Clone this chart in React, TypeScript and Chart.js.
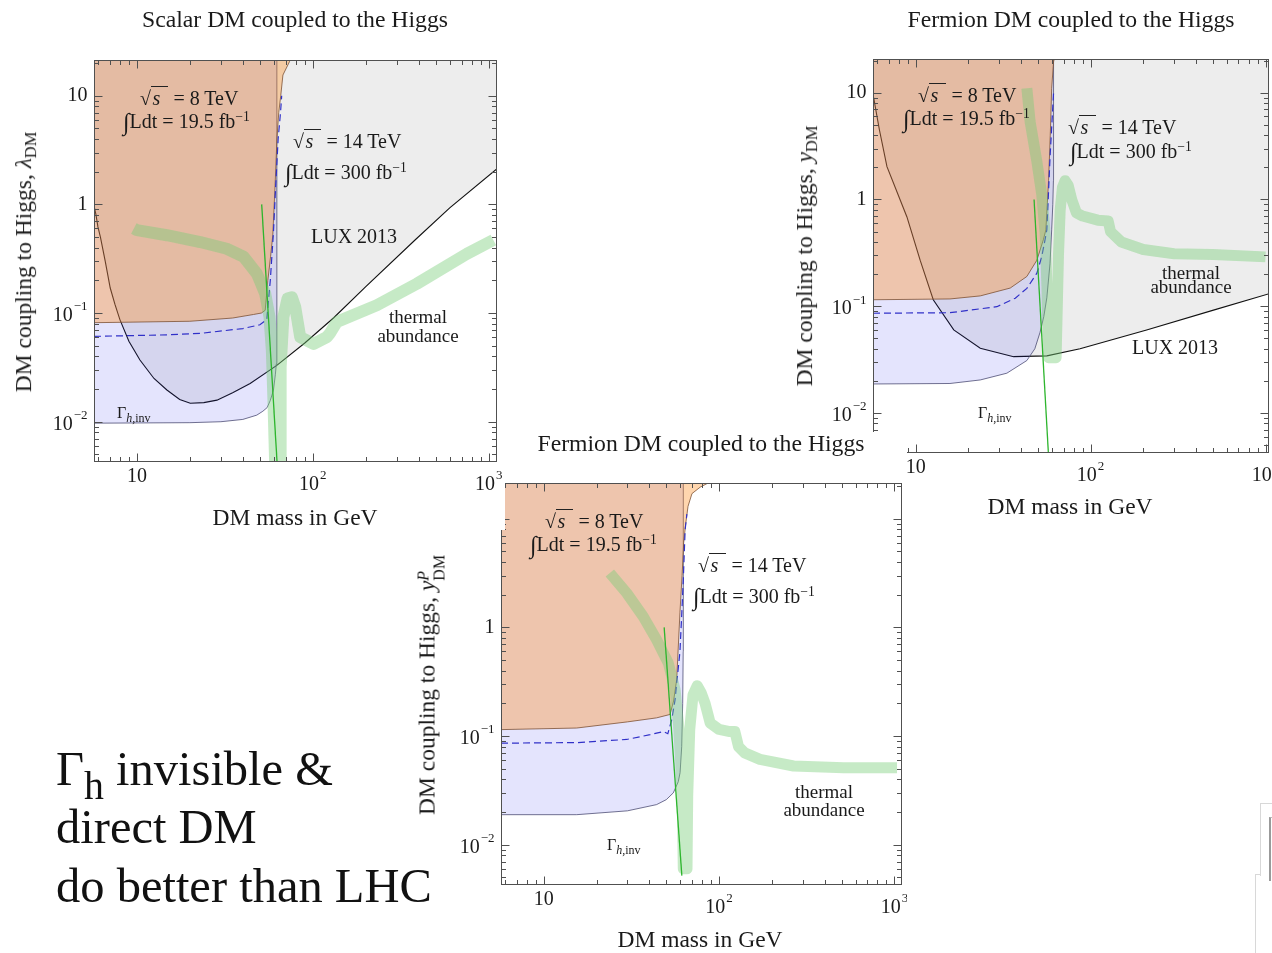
import React, { useEffect, useRef } from "react";
import { Chart, registerables } from "chart.js";

Chart.register(...registerables);

const SERIF = '"Liberation Serif", "Times New Roman", serif';
const INK = "#1a1a1a";
const AXIS = "#505050";

// ---------- ticks ----------
const xMajorTicks = [10, 100, 1000];
const xTickLabels = [["10", ""], ["10", "2"], ["10", "3"]];
const xMinorTicks = [6, 7, 8, 9, 20, 30, 40, 50, 60, 70, 80, 90, 200, 300, 400, 500, 600, 700, 800, 900];
const yMajorTicks = [0.01, 0.1, 1, 10];
const yTickLabels = [["10", "−2"], ["10", "−1"], ["1", ""], ["10", ""]];
const yMinorTicks = [0.005, 0.006, 0.007, 0.008, 0.009, 0.02, 0.03, 0.04, 0.05, 0.06, 0.07, 0.08, 0.09,
  0.2, 0.3, 0.4, 0.5, 0.6, 0.7, 0.8, 0.9, 2, 3, 4, 5, 6, 7, 8, 9, 20];
const X_MIN = 5.7;

// ---------- scalar DM (top left) ----------
const scalarLux = [[5.72, 0.95], [5.85, 0.8], [6.0, 0.62], [6.2, 0.5], [6.6, 0.3], [7.05, 0.17], [7.5, 0.12], [8.0, 0.087],
  [9.0, 0.055], [10.4, 0.037], [12.5, 0.025], [14.8, 0.0196], [17.5, 0.016], [20.1, 0.0148], [24, 0.015], [28.5, 0.0158],
  [35, 0.0185], [44, 0.0225], [62.4, 0.033], [90, 0.053], [131, 0.09], [200, 0.175], [381, 0.47], [600, 0.93], [1120, 2.14]];
const scalarInv = [[5.7, 0.0097], [20, 0.0098], [30, 0.01], [40, 0.0105], [48, 0.0115], [52, 0.0125], [55, 0.0135],
  [57.3, 0.0157], [59.7, 0.0195], [61.2, 0.027], [62, 0.034], [62.3, 0.05], [62.45, 0.1], [62.5, 0.3], [62.5, 30]];
const scalarLhc8 = [[5.7, 0.0815], [20, 0.084], [35, 0.09], [46, 0.097], [51, 0.1], [53.6, 0.106], [55.5, 0.2],
  [57.5, 0.33], [59.2, 0.52], [61, 1.5], [62.5, 4], [64, 7], [65.7, 10], [67.6, 15.5], [73.6, 20.5], [80, 30]];
const scalarLhc14 = [[5.7, 0.061], [15, 0.063], [23, 0.065], [40, 0.072], [50, 0.078], [54.7, 0.087], [57.3, 0.2],
  [59.7, 0.55], [61.5, 1.5], [63.5, 4], [65.5, 7], [66.5, 10]];
const scalarWidth = [[51.2, 1], [63.4, 0.003]];
const scalarThermal = [[9.6, 0.6], [10, 0.58], [14.8, 0.52], [22.9, 0.45], [32.4, 0.39], [40.4, 0.33], [48.1, 0.23],
  [53.6, 0.151], [56.7, 0.092], [58.5, 0.045], [59.7, 0.0157], [61.1, 0.004], [61.6, 0.002], [65, 0.002], [65.2, 0.004],
  [65.6, 0.032], [68, 0.092], [71.8, 0.136], [76, 0.14], [79.4, 0.114], [84.8, 0.06], [101, 0.052], [120, 0.06],
  [125, 0.065], [137, 0.083], [231, 0.118], [390, 0.186], [750, 0.35], [1062, 0.47]];

// ---------- fermion DM (top right) ----------
const fermionLux = [[5.75, 9], [5.87, 7.4], [6.2, 4.5], [6.85, 2.03], [8.9, 0.69], [10.6, 0.27], [12.6, 0.115],
  [16.5, 0.06], [23.4, 0.0404], [36.3, 0.0337], [56.2, 0.0343], [87, 0.04], [209, 0.06], [504, 0.092], [1050, 0.131]];
const fermionInv = [[5.7, 0.0187], [15.7, 0.0189], [23.4, 0.0204], [33.2, 0.0236], [43.2, 0.031], [48, 0.04],
  [51.4, 0.057], [54, 0.08], [56.2, 0.12], [58.6, 0.25], [59.9, 0.52], [60.8, 0.9], [61.3, 1.5], [61.4, 30]];
const fermionLhc8 = [[5.7, 0.115], [15.7, 0.117], [23.4, 0.125], [34.7, 0.148], [43.2, 0.19], [49.3, 0.27],
  [53.7, 0.42], [55.5, 0.52], [57.5, 1.5], [58.8, 4], [59.9, 11], [61.4, 19.5], [63, 23], [64, 30]];
const fermionLhc14 = [[5.7, 0.086], [15.7, 0.087], [29.1, 0.099], [37.1, 0.119], [43.2, 0.147], [49.3, 0.204],
  [52.5, 0.29], [54.9, 0.42], [56.2, 0.52], [57.5, 1.2], [58.7, 2.6], [60.2, 5.5], [61.4, 10]];
const fermionWidth = [[47.5, 1], [58.4, 0.0025]];
const fermionThermal = [[43.2, 11], [45.1, 5.35], [49.3, 2.26], [52.6, 1.1], [55, 0.47], [56.3, 0.15], [57, 0.06],
  [57.5, 0.033], [63.5, 0.033], [64.5, 0.1], [65.5, 0.3], [67, 0.8], [69, 1.3], [71.5, 1.5], [74.5, 1.35], [78, 1.0],
  [83, 0.75], [90, 0.7], [110, 0.64], [126, 0.63], [130, 0.5], [150, 0.4], [200, 0.34], [300, 0.31], [500, 0.305], [1000, 0.29]];

// ---------- pseudoscalar fermion DM (bottom) ----------
const pseudoInv = [[5.7, 0.0189], [15.4, 0.0189], [30, 0.0205], [44, 0.0234], [50, 0.026], [54.8, 0.03], [58.5, 0.038],
  [59.9, 0.046], [61.2, 0.08], [62, 0.2], [62.4, 0.6], [62.5, 30]];
const pseudoLhc8 = [[5.7, 0.1146], [15.4, 0.1185], [30, 0.135], [44, 0.147], [52.5, 0.158], [55, 0.21], [57.3, 0.33],
  [59.8, 1.36], [61.5, 3], [62.8, 6], [64.5, 9], [66.5, 13], [70, 17], [78, 19.5], [90, 22], [100, 30]];
const pseudoLhc14 = [[5.7, 0.086], [15.4, 0.087], [29.7, 0.093], [40.4, 0.103], [48, 0.11], [51, 0.105], [53.7, 0.142],
  [56.1, 0.216], [57.3, 0.31], [58.4, 0.41], [59.8, 0.6], [61.2, 1.3], [62.5, 2.75], [64, 7.9], [65.5, 11]];
const pseudoWidth = [[48.6, 1], [61.3, 0.0052]];
const pseudoThermal = [[23.8, 3.16], [29.7, 2.07], [36.9, 1.26], [44, 0.77], [51.3, 0.47], [56.1, 0.267], [58.6, 0.132],
  [60.4, 0.057], [61.8, 0.0196], [62.5, 0.006], [65.6, 0.006], [66.2, 0.028], [68, 0.115], [71, 0.24], [75, 0.29],
  [79, 0.25], [83.2, 0.2], [88.9, 0.132], [100, 0.115], [115, 0.11], [123, 0.11], [129, 0.08], [140, 0.07], [171, 0.061],
  [266, 0.053], [513, 0.051], [1035, 0.051]];

// ---------- styles ----------
const C_GRAY = "rgba(0,0,0,0.072)";
const C_BLUE = "rgba(30,30,235,0.12)";
const C_BLUE_EDGE = "rgba(70,70,110,0.85)";
const C_ORANGE = "rgba(255,140,30,0.36)";
const C_ORANGE_EDGE = "rgba(120,75,45,0.85)";
const C_DASH = "#3030c8";
const C_BAND = "rgba(120,205,120,0.42)";
const C_GREEN = "#2db52d";

const pts = (a: number[][]) => a.map(([x, y]) => ({ x, y }));

function fillSet(d: number[][], bg: string, edge: string, lineW = 0.9) {
  return { data: pts(d), fill: "end", backgroundColor: bg, borderColor: edge, borderWidth: lineW, pointRadius: 0, clip: 0 };
}
function lineSet(d: number[][], color: string, w: number, dash: number[] = [], extra: any = {}) {
  return { data: pts(d), fill: false, borderColor: color, borderWidth: w, borderDash: dash, pointRadius: 0, clip: 0, ...extra };
}

const axisPlugin = {
  id: "axisFrame",
  afterDraw(chart: any) {
    const { ctx, chartArea: a } = chart;
    const xs = chart.scales.x, ys = chart.scales.y;
    const L = Math.round(a.left) + 0.5, R = Math.round(a.right) - 0.5;
    const T = Math.round(a.top) + 0.5, B = Math.round(a.bottom) - 0.5;
    ctx.save();
    ctx.strokeStyle = AXIS;
    ctx.lineWidth = 1;
    ctx.strokeRect(L, T, R - L, B - T);
    ctx.beginPath();
    const xt: [number[], number][] = [[xMajorTicks, 8], [xMinorTicks, 4.5]];
    for (const [vals, len] of xt) {
      for (const v of vals) {
        const px = Math.round(xs.getPixelForValue(v)) + 0.5;
        if (px < L || px > R) continue;
        ctx.moveTo(px, B); ctx.lineTo(px, B - len);
        ctx.moveTo(px, T); ctx.lineTo(px, T + len);
      }
    }
    const yt: [number[], number][] = [[yMajorTicks, 8], [yMinorTicks, 4.5]];
    for (const [vals, len] of yt) {
      for (const v of vals) {
        const py = Math.round(ys.getPixelForValue(v)) + 0.5;
        if (py < T || py > B) continue;
        ctx.moveTo(L, py); ctx.lineTo(L + len, py);
        ctx.moveTo(R, py); ctx.lineTo(R - len, py);
      }
    }
    ctx.stroke();

    const big = `20px ${SERIF}`, small = `13px ${SERIF}`;
    ctx.fillStyle = INK;
    ctx.textBaseline = "middle";
    ctx.textAlign = "left";
    xMajorTicks.forEach((v, i) => {
      const [base, sup] = xTickLabels[i];
      const px = xs.getPixelForValue(v);
      ctx.font = big; const wb = ctx.measureText(base).width;
      ctx.font = small; const ws = sup ? ctx.measureText(sup).width + 1 : 0;
      const x0 = px - (wb + ws) / 2;
      const cy = sup ? B + 23 : B + 15;
      ctx.font = big; ctx.fillText(base, x0, cy);
      if (sup) { ctx.font = small; ctx.fillText(sup, x0 + wb + 1, cy - 9); }
    });
    yMajorTicks.forEach((v, i) => {
      const [base, sup] = yTickLabels[i];
      const py = ys.getPixelForValue(v);
      ctx.font = big; const wb = ctx.measureText(base).width;
      ctx.font = small; const ws = sup ? ctx.measureText(sup).width + 1 : 0;
      const x1 = L - 7;
      const x0 = x1 - wb - ws;
      const cy = sup ? py + 3 : py;
      ctx.font = big; ctx.fillText(base, x0, cy);
      if (sup) { ctx.font = small; ctx.fillText(sup, x0 + wb + 1, cy - 9); }
    });
    ctx.restore();
  },
};

type Box = { left: number; top: number; width: number; height: number };
type Plot = { l: number; t: number; r: number; b: number };

function PlotCanvas({ box, plot, xMax, yMin, yMax, datasets }: { box: Box; plot: Plot; xMax: number; yMin: number; yMax: number; datasets: any[] }) {
  const ref = useRef<HTMLCanvasElement>(null);
  useEffect(() => {
    const ds = datasets.map((d, i) => ({ ...d, order: 100 - i }));
    const chart = new Chart(ref.current as HTMLCanvasElement, {
      type: "line",
      data: { datasets: ds },
      options: {
        responsive: false,
        animation: false,
        devicePixelRatio: 1,
        events: [],
        layout: {
          padding: {
            left: plot.l - box.left,
            top: plot.t - box.top,
            right: box.left + box.width - plot.r,
            bottom: box.top + box.height - plot.b,
          },
        },
        scales: {
          x: { type: "logarithmic", min: X_MIN, max: xMax, display: false },
          y: { type: "logarithmic", min: yMin, max: yMax, display: false },
        },
        plugins: { legend: { display: false }, tooltip: { enabled: false } },
        elements: { point: { radius: 0 }, line: { tension: 0 } },
      } as any,
      plugins: [axisPlugin as any],
    });
    return () => chart.destroy();
  }, []);
  return (
    <canvas ref={ref} width={box.width} height={box.height}
      style={{ position: "absolute", left: 0, top: 0, width: box.width, height: box.height }} />
  );
}

const supS: React.CSSProperties = { fontSize: "0.68em", verticalAlign: "0.5em", lineHeight: 0 };
const subS: React.CSSProperties = { fontSize: "0.7em", verticalAlign: "-0.3em", lineHeight: 0 };

function Sqrt({ n }: { n: string }) {
  return (
    <>
      √<span style={{ borderTop: "1.2px solid #222", fontStyle: "italic", padding: "0 0.4em 0 0.08em" }}>s</span> = {n} TeV
    </>
  );
}
function Lumi({ v }: { v: string }) {
  return (
    <>
      <span style={{ fontSize: "1.2em", lineHeight: 0, verticalAlign: "-0.08em" }}>∫</span>Ldt = {v} fb<span style={supS}>−1</span>
    </>
  );
}
function GammaInv() {
  return (
    <>
      Γ<span style={{ fontSize: "0.75em", verticalAlign: "-0.3em", lineHeight: 0 }}><i>h</i>,inv</span>
    </>
  );
}

type Ann = { x: number; y: number; size: number; center?: boolean; rotate?: boolean; node: React.ReactNode };

function Panel({ box, plot, xMax, yMin, yMax, datasets, texts, z }: any) {
  return (
    <div style={{ position: "absolute", left: box.left, top: box.top, width: box.width, height: box.height, background: "#fff", zIndex: z, overflow: "hidden" }}>
      <PlotCanvas box={box} plot={plot} xMax={xMax} yMin={yMin} yMax={yMax} datasets={datasets} />
      {texts.map((t: Ann, i: number) => (
        <div key={i} style={{
          position: "absolute", left: t.x - box.left, top: t.y - box.top,
          transform: t.rotate ? "translate(-50%,-50%) rotate(-90deg)" : t.center ? "translate(-50%,-50%)" : "translate(0,-50%)",
          fontFamily: SERIF, fontSize: t.size, whiteSpace: "nowrap", lineHeight: 1.1, color: INK,
        }}>{t.node}</div>
      ))}
    </div>
  );
}

const chart1 = {
  box: { left: 0, top: 0, width: 505, height: 530 },
  plot: { l: 94, t: 60, r: 497, b: 462 },
  xMax: 1114, yMin: 0.00426, yMax: 21.3,
  datasets: [
    fillSet(scalarLux, C_GRAY, "#111", 1.1),
    fillSet(scalarInv, C_BLUE, C_BLUE_EDGE),
    fillSet(scalarLhc8, C_ORANGE, C_ORANGE_EDGE),
    lineSet(scalarLhc14, C_DASH, 1.2, [7, 4]),
    lineSet(scalarThermal, C_BAND, 12, [], { borderJoinStyle: "round" }),
    lineSet(scalarWidth, C_GREEN, 1.3),
  ],
  texts: [
    { x: 295, y: 19, size: 23.7, center: true, node: "Scalar DM coupled to the Higgs" },
    { x: 295, y: 518, size: 23.5, center: true, node: "DM mass in GeV" },
    { x: 24, y: 262, size: 23.5, rotate: true, node: <>DM coupling to Higgs, <i>λ</i><span style={subS}>DM</span></> },
    { x: 140, y: 98, size: 20, node: <Sqrt n="8" /> },
    { x: 123, y: 121, size: 20, node: <Lumi v="19.5" /> },
    { x: 293, y: 141, size: 20, node: <Sqrt n="14" /> },
    { x: 285, y: 172, size: 20, node: <Lumi v="300" /> },
    { x: 311, y: 236, size: 20, node: "LUX 2013" },
    { x: 418, y: 317, size: 19, center: true, node: "thermal" },
    { x: 418, y: 336, size: 19, center: true, node: "abundance" },
    { x: 117, y: 413, size: 16, node: <GammaInv /> },
  ],
};

const chart2 = {
  box: { left: 780, top: 0, width: 492, height: 530 },
  plot: { l: 873, t: 59, r: 1269, b: 453 },
  xMax: 1047, yMin: 0.00422, yMax: 20.7,
  datasets: [
    fillSet(fermionLux, C_GRAY, "#111", 1.1),
    fillSet(fermionInv, C_BLUE, C_BLUE_EDGE),
    fillSet(fermionLhc8, C_ORANGE, C_ORANGE_EDGE),
    lineSet(fermionLhc14, C_DASH, 1.2, [7, 4]),
    lineSet(fermionThermal, C_BAND, 11, [], { borderJoinStyle: "round" }),
    lineSet(fermionWidth, C_GREEN, 1.3),
  ],
  texts: [
    { x: 1071, y: 19, size: 23.7, center: true, node: "Fermion DM coupled to the Higgs" },
    { x: 1070, y: 507, size: 23.5, center: true, node: "DM mass in GeV" },
    { x: 805, y: 256, size: 23.5, rotate: true, node: <>DM coupling to Higgs, <i>y</i><span style={subS}>DM</span></> },
    { x: 918, y: 95, size: 20, node: <Sqrt n="8" /> },
    { x: 903, y: 118, size: 20, node: <Lumi v="19.5" /> },
    { x: 1068, y: 127, size: 20, node: <Sqrt n="14" /> },
    { x: 1070, y: 151, size: 20, node: <Lumi v="300" /> },
    { x: 1191, y: 273, size: 19, center: true, node: "thermal" },
    { x: 1191, y: 287, size: 19, center: true, node: "abundance" },
    { x: 1132, y: 347, size: 20, node: "LUX 2013" },
    { x: 978, y: 413, size: 16, node: <GammaInv /> },
  ],
};

const chart3 = {
  box: { left: 412, top: 432, width: 495, height: 521 },
  plot: { l: 501, t: 483, r: 902, b: 885 },
  xMax: 1105, yMin: 0.00426, yMax: 21.3,
  datasets: [
    fillSet(pseudoInv, C_BLUE, C_BLUE_EDGE),
    fillSet(pseudoLhc8, C_ORANGE, C_ORANGE_EDGE),
    lineSet(pseudoLhc14, C_DASH, 1.2, [7, 4]),
    lineSet(pseudoThermal, C_BAND, 11, [], { borderJoinStyle: "round" }),
    lineSet(pseudoWidth, C_GREEN, 1.3),
  ],
  texts: [
    { x: 701, y: 443, size: 23.7, center: true, node: "Fermion DM coupled to the Higgs" },
    { x: 700, y: 940, size: 23.5, center: true, node: "DM mass in GeV" },
    {
      x: 431, y: 685, size: 23.5, rotate: true, node: <>DM coupling to Higgs, <i>y</i><span style={{ display: "inline-flex", flexDirection: "column", fontSize: "0.68em", lineHeight: 1, verticalAlign: "6px" }}><i>P</i><span>DM</span></span></>,
    },
    { x: 545, y: 521, size: 20, node: <Sqrt n="8" /> },
    { x: 530, y: 544, size: 20, node: <Lumi v="19.5" /> },
    { x: 698, y: 565, size: 20, node: <Sqrt n="14" /> },
    { x: 693, y: 596, size: 20, node: <Lumi v="300" /> },
    { x: 824, y: 792, size: 19, center: true, node: "thermal" },
    { x: 824, y: 810, size: 19, center: true, node: "abundance" },
    { x: 607, y: 845, size: 16, node: <GammaInv /> },
  ],
};

export default function App() {
  return (
    <div style={{ position: "fixed", left: 0, top: 0, width: 1272, height: 953, overflow: "hidden", background: "#fff" }}>
      <Panel {...chart2} z={1} />
      <Panel {...chart3} z={2} />
      <Panel {...chart1} z={3} />
      <div style={{ position: "absolute", left: 56, top: 740, fontFamily: SERIF, fontSize: 48.5, lineHeight: "58.3px", color: "#111", zIndex: 5, whiteSpace: "nowrap" }}>
        Γ<span style={{ fontSize: "0.82em", verticalAlign: "-0.36em", lineHeight: 0 }}>h</span> invisible &amp;<br />
        direct DM<br />
        do better than LHC
      </div>
      <div style={{ position: "absolute", left: 1260, top: 803, width: 14, height: 72, borderLeft: "1.5px solid #d8d8d8", borderTop: "1.5px solid #d8d8d8", zIndex: 4 }} />
      <div style={{ position: "absolute", left: 1255, top: 874, width: 6, height: 0, borderTop: "1.5px solid #d8d8d8", zIndex: 4 }} />
      <div style={{ position: "absolute", left: 1255, top: 874, width: 0, height: 80, borderLeft: "1.5px solid #d8d8d8", zIndex: 4 }} />
      <div style={{ position: "absolute", left: 1269, top: 817, width: 4, height: 63, borderLeft: "2px solid #9a9a9a", borderTop: "1.5px solid #bbb", zIndex: 4 }} />
    </div>
  );
}
